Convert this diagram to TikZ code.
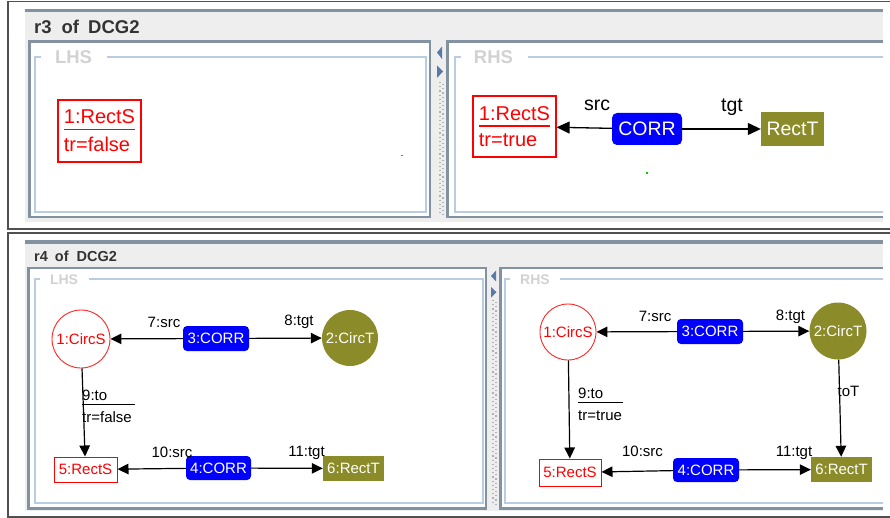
\documentclass[tikz,border=0pt]{standalone}
\usepackage{fontspec}
\setmainfont{Liberation Sans}
\usetikzlibrary{arrows.meta}
\definecolor{olv}{RGB}{139,139,42}
\definecolor{bgray}{RGB}{131,146,161}
\definecolor{lblue}{RGB}{184,205,227}
\definecolor{hdr}{RGB}{238,238,238}
\definecolor{ttl}{RGB}{210,210,210}
\definecolor{cblue}{RGB}{0,0,255}
\definecolor{trig}{RGB}{90,120,168}
\definecolor{frm}{RGB}{80,80,80}
\newcommand\myfs[1]{\fontsize{#1}{#1}\selectfont}
\newcommand\twoline[5]{\vbox{\hbox{#1}\kern#3\hrule height #5\kern#4\hbox{#2}}}
\tikzset{
  srcbox/.style={draw=red, text=red, line width=1.2pt, inner sep=0pt, font=\myfs{20}},
  corrbig/.style={fill=cblue, text=white, rounded corners=5pt, inner sep=0pt, font=\myfs{19.5}},
  tgtbig/.style={fill=olv, text=white, inner sep=0pt, font=\myfs{19.5}},
  lblbig/.style={inner sep=0pt, font=\myfs{19.5}},
  srcsm/.style={draw=red, text=red, line width=1pt, inner sep=0pt, font=\myfs{15}},
  srccirc/.style={circle, draw=red!85, text=red, line width=0.9pt, inner sep=0pt, font=\myfs{15}},
  tgtcirc/.style={circle, fill=olv, text=white, inner sep=0pt, font=\myfs{15}},
  corrsm/.style={fill=cblue, text=white, rounded corners=4pt, inner sep=0pt, font=\myfs{15}},
  tgtsm/.style={fill=olv, text=white, inner sep=0pt, font=\myfs{15}},
  lblsm/.style={inner sep=0pt, font=\myfs{15}},
  edbig/.style={line width=1.3pt, -{Triangle[length=13pt,width=12pt]}},
  edsm/.style={line width=1.2pt, -{Triangle[length=11pt,width=10.5pt]}},
  outerfrm/.style={draw=frm, line width=1.2pt},
  subpan/.style={fill=white, draw=bgray, line width=2.5pt},
  titled/.style={draw=lblue, line width=1.2pt},
  secttl/.style={text=ttl, inner sep=0pt, font=\bfseries\myfs{18.5}},
  secttlsm/.style={text=ttl, inner sep=0pt, font=\bfseries\myfs{14}},
  dots/.style={draw=gray!60, line width=1.2pt, dash pattern=on 1.2pt off 3pt},
  trg/.style={fill=trig}
}
\begin{document}
\begin{tikzpicture}[x=1pt,y=-1pt]
\useasboundingbox (0,0) rectangle (890,518);
\fill[white] (0,0) rectangle (890,518);
% ================= top panel r3 =================
\draw[outerfrm] (890,1.5) -- (8,1.5) -- (8,229) -- (890,229);
\fill[hdr] (25,10) rectangle (883,222);
\fill[bgray] (25,9) rectangle (883,12.5);
\node[anchor=west, inner sep=0pt, font=\bfseries\myfs{18.5}, text=black!80] (t3) at (34,26.5) {r3\hspace{10pt}of\hspace{9pt}DCG2};
\draw[subpan] (29.5,41.5) rectangle (430,217);
\fill[white] (446,40) rectangle (883,218);
\draw[bgray, line width=2.5pt] (883,41.5) -- (447.5,41.5) -- (447.5,217) -- (883,217);
% titled borders
\draw[titled] (41,57) -- (35,57) -- (35,212) -- (426,212) -- (426,57) -- (107,57);
\node[secttl] (lhs3) at (73.5,57.5) {LHS};
\draw[titled] (461,57) -- (455,57) -- (455,212) -- (883,212);
\draw[titled] (528,57) -- (883,57);
\node[secttl] (rhs3) at (493.5,57.5) {RHS};
% divider
\fill[trig] (437,52.5) -- (442,46.5) -- (442,59) -- cycle;
\fill[trig] (437,65.5) -- (437,78) -- (443,71.5) -- cycle;
\draw[dots] (440,82) -- (440,215);
\draw[dots] (443,84) -- (443,215);
% nodes
\node[srcbox, minimum width=83pt, minimum height=62pt] (l1) at (99.5,131)
  {\twoline{1:RectS}{tr=false}{5pt}{7pt}{1.2pt}};
\node[srcbox, minimum width=83pt, minimum height=61pt] (r1) at (514.5,126.5)
  {\twoline{1:RectS}{tr=true}{4.5pt}{6.5pt}{1.2pt}};
\node[corrbig, minimum width=70pt, minimum height=32pt] (corr) at (647,129) {CORR};
\node[tgtbig, minimum width=63pt, minimum height=34pt] (rt) at (792.5,129) {RectT};
\draw[edbig] (corr) -- (r1);
\draw[edbig] (corr) -- (rt);
\node[lblbig] (srclbl) at (597,105) {src};
\node[lblbig] (tgtlbl) at (732,107) {tgt};
\fill[green!80!black] (401,155) rectangle (402.5,156.5);
\fill[green!80!black] (646,172.5) rectangle (647.5,174);
% ================= bottom panel r4 =================
\draw[outerfrm] (890,233) -- (8,233) -- (8,517) -- (890,517);
\fill[hdr] (25,241) rectangle (883,511);
\fill[bgray] (25,240.5) rectangle (883,244);
\node[anchor=west, inner sep=0pt, font=\bfseries\myfs{14.5}, text=black!80] (t4) at (34,256.5) {r4\hspace{7pt}of\hspace{8pt}DCG2};
\draw[subpan] (28.5,268) rectangle (486,508.5);
\fill[white] (499,267) rectangle (883,510);
\draw[bgray, line width=2.5pt] (883,268) -- (500.5,268) -- (500.5,508.5) -- (883,508.5);
\draw[titled] (40,279) -- (35,279) -- (35,503) -- (483,503) -- (483,279) -- (89,279);
\node[secttlsm] (lhs4) at (64,280) {LHS};
\draw[titled] (510,279) -- (505,279) -- (505,503) -- (883,503);
\draw[titled] (560,279) -- (883,279);
\node[secttlsm] (rhs4) at (535,280) {RHS};
% divider
\fill[trig] (491,276) -- (496,270.5) -- (496,281.5) -- cycle;
\fill[trig] (491,287) -- (491,297.5) -- (496.5,292.2) -- cycle;
\draw[dots] (493,300) -- (493,505);
\draw[dots] (496,302) -- (496,505);
% LHS nodes
\node[srccirc, minimum size=58pt] (a1) at (81,339) {1:CircS};
\node[corrsm, minimum width=66pt, minimum height=25pt] (a3) at (216,338.5) {3:CORR};
\node[tgtcirc, minimum size=56pt] (a2) at (350,338) {2:CircT};
\node[srcsm, minimum width=63pt, minimum height=25pt] (a5) at (85.5,469.5) {5:RectS};
\node[corrsm, minimum width=65pt, minimum height=24pt] (a4) at (218.5,468) {4:CORR};
\node[tgtsm, minimum width=61pt, minimum height=25pt] (a6) at (353.5,468.5) {6:RectT};
\draw[edsm] (a3) -- (a1);
\draw[edsm] (a3) -- (a2);
\draw[edsm] (a1) -- (a5);
\draw[edsm] (a4) -- (a5);
\draw[edsm] (a4) -- (a6);
\node[lblsm] (a7l) at (164,322) {7:src};
\node[lblsm] (a8l) at (299,322) {8:tgt};
\node[lblsm, anchor=west] (a9l) at (82,406.5)
  {\twoline{\hbox to 53pt{9:to\hfil}}{tr=false}{3pt}{7.5pt}{1pt}};
\node[lblsm] (a10l) at (172,452) {10:src};
\node[lblsm] (a11l) at (306.5,452.5) {11:tgt};
% RHS nodes
\node[srccirc, minimum size=56pt] (b1) at (568,332) {1:CircS};
\node[corrsm, minimum width=66pt, minimum height=25pt] (b3) at (710,331.5) {3:CORR};
\node[tgtcirc, minimum size=57pt] (b2) at (838,331) {2:CircT};
\node[srcsm, minimum width=62pt, minimum height=27pt] (b5) at (570,472.5) {5:RectS};
\node[corrsm, minimum width=66pt, minimum height=24pt] (b4) at (706,470) {4:CORR};
\node[tgtsm, minimum width=61pt, minimum height=25pt] (b6) at (841.5,469.5) {6:RectT};
\draw[edsm] (b3) -- (b1);
\draw[edsm] (b3) -- (b2);
\draw[edsm] (b1) -- (b5);
\draw[edsm] (b2) -- (b6);
\draw[edsm] (b4) -- (b5);
\draw[edsm] (b4) -- (b6);
\node[lblsm] (b7l) at (655,316) {7:src};
\node[lblsm] (b8l) at (790.5,316.5) {8:tgt};
\node[lblsm, anchor=west] (b9l) at (578,404.5)
  {\twoline{\hbox to 45pt{9:to\hfil}}{tr=true}{3pt}{7.5pt}{1pt}};
\node[lblsm] (b10l) at (642.5,451.5) {10:src};
\node[lblsm] (b11l) at (794,453) {11:tgt};
\node[lblsm] (btol) at (848.5,391) {toT};
\end{tikzpicture}
\end{document}
